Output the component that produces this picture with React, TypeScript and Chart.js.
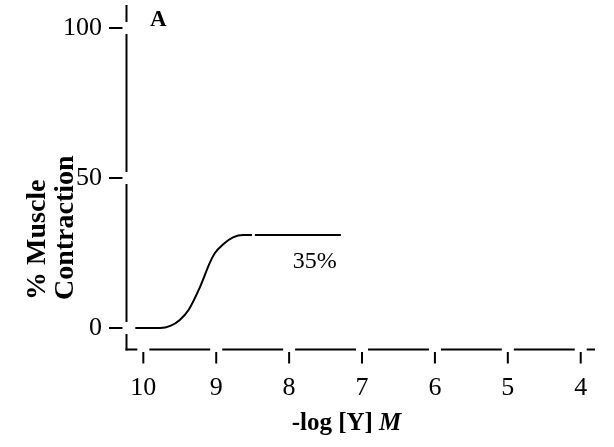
import React, { useEffect, useRef } from "react";
import { Chart, registerables } from "chart.js";

Chart.register(...registerables);

// Data
const concLog = [10.11, 9.77, 9.63, 9.5, 9.38, 9.22, 9.09, 9.02, 8.9, 8.77, 8.63, 8.51, 8.49, 8.47, 7.29];
const contraction: (number | null)[] = [0, 0, 0.7, 2.7, 6, 13.8, 21.6, 24.9, 28, 30.2, 31, 31, null, 31, 31];

const xTicks = [10, 9, 8, 7, 6, 5, 4];
const yTicks = [0, 50, 100];

const panelLabel = "A";
const plateauLabel = "35%";
const plateauLabelAt = { x: 7.65, y: 22.5 };
const xTitle = ["-log [Y] ", "M"];
const yTitle = ["% Muscle", "Contraction"];

const SERIF = '"Liberation Serif", "Times New Roman", serif';

const axesPlugin = {
  id: "customAxes",
  afterDraw(chart: any) {
    const { ctx, chartArea } = chart;
    const xs = chart.scales.x;
    const ys = chart.scales.y;
    const axisX = chartArea.left - 0.5;
    const axisY = chartArea.bottom - 0.5;
    const gap = 6;
    ctx.save();
    ctx.strokeStyle = "#000";
    ctx.fillStyle = "#000";
    ctx.lineWidth = 2;
    ctx.lineCap = "butt";

    // Y axis with gaps at ticks
    const yTickPx = yTicks.map((v) => ys.getPixelForValue(v)).sort((a, b) => a - b);
    let start = chartArea.top;
    ctx.beginPath();
    for (const p of yTickPx) {
      ctx.moveTo(axisX, start);
      ctx.lineTo(axisX, p - gap);
      start = p + gap;
    }
    ctx.moveTo(axisX, start);
    ctx.lineTo(axisX, axisY + 1);
    ctx.stroke();

    // X axis with gaps at ticks
    const xTickPx = xTicks.map((v) => xs.getPixelForValue(v)).sort((a, b) => a - b);
    let sx = axisX - 1;
    ctx.beginPath();
    for (const p of xTickPx) {
      ctx.moveTo(sx, axisY);
      ctx.lineTo(p - gap, axisY);
      sx = p + gap;
    }
    ctx.moveTo(sx, axisY);
    ctx.lineTo(chartArea.right, axisY);
    ctx.stroke();

    // Y ticks and labels
    ctx.font = `26px ${SERIF}`;
    ctx.textAlign = "right";
    ctx.textBaseline = "middle";
    for (const v of yTicks) {
      const p = ys.getPixelForValue(v);
      ctx.beginPath();
      ctx.moveTo(chartArea.left - 18, p);
      ctx.lineTo(chartArea.left - 4.5, p);
      ctx.stroke();
      ctx.fillText(String(v), chartArea.left - 25, p);
    }

    // X ticks and labels
    ctx.textAlign = "center";
    ctx.textBaseline = "alphabetic";
    for (const v of xTicks) {
      const p = xs.getPixelForValue(v);
      ctx.beginPath();
      ctx.moveTo(p, axisY + 2.5);
      ctx.lineTo(p, axisY + 14);
      ctx.stroke();
      ctx.fillText(String(v), p, axisY + 45.5);
    }

    // X title
    ctx.font = `bold 25px ${SERIF}`;
    const w1 = ctx.measureText(xTitle[0]).width;
    ctx.font = `italic bold 25px ${SERIF}`;
    const w2 = ctx.measureText(xTitle[1]).width;
    const cx = 346.5;
    const tx = cx - (w1 + w2) / 2;
    ctx.textAlign = "left";
    ctx.font = `bold 25px ${SERIF}`;
    ctx.fillText(xTitle[0], tx, 430);
    ctx.font = `italic bold 25px ${SERIF}`;
    ctx.fillText(xTitle[1], tx + w1, 430);

    // Y title (rotated, bottom aligned)
    ctx.font = `bold 28px ${SERIF}`;
    const baselines = [45, 72.5];
    yTitle.forEach((t, i) => {
      ctx.save();
      ctx.translate(baselines[i], 300);
      ctx.rotate(-Math.PI / 2);
      ctx.textAlign = "left";
      ctx.textBaseline = "alphabetic";
      ctx.fillText(t, 0, 0);
      ctx.restore();
    });

    // Panel label
    ctx.font = `bold 23px ${SERIF}`;
    ctx.textAlign = "left";
    ctx.fillText(panelLabel, 150, 25.5);

    // Plateau label
    ctx.font = `24px ${SERIF}`;
    ctx.textAlign = "center";
    ctx.fillText(plateauLabel, xs.getPixelForValue(plateauLabelAt.x), ys.getPixelForValue(plateauLabelAt.y) + 7);

    ctx.restore();
  },
};

export default function App() {
  const ref = useRef<HTMLCanvasElement | null>(null);
  useEffect(() => {
    if (!ref.current) return;
    const chart = new Chart(ref.current, {
      type: "line",
      data: {
        datasets: [
          {
            data: concLog.map((x, i) => ({ x, y: contraction[i] as any })),
            borderColor: "#000",
            borderWidth: 2,
            pointRadius: 0,
            cubicInterpolationMode: "monotone",
            spanGaps: false,
            fill: false,
          },
        ],
      },
      options: {
        responsive: false,
        animation: false,
        events: [],
        layout: { padding: { left: 127, right: 19, top: 5, bottom: 97 } },
        plugins: { legend: { display: false }, tooltip: { enabled: false }, title: { display: false } },
        scales: {
          x: { type: "linear", display: false, reverse: true, min: 3.804, max: 10.224 },
          y: { type: "linear", display: false, min: -7.333, max: 107.667 },
        },
      },
      plugins: [axesPlugin],
    });
    return () => chart.destroy();
  }, []);
  return (
    <div style={{ position: "fixed", left: 0, top: 0, width: 614, height: 447, background: "#fff" }}>
      <canvas ref={ref} width={614} height={447} style={{ width: 614, height: 447, display: "block" }} />
    </div>
  );
}
